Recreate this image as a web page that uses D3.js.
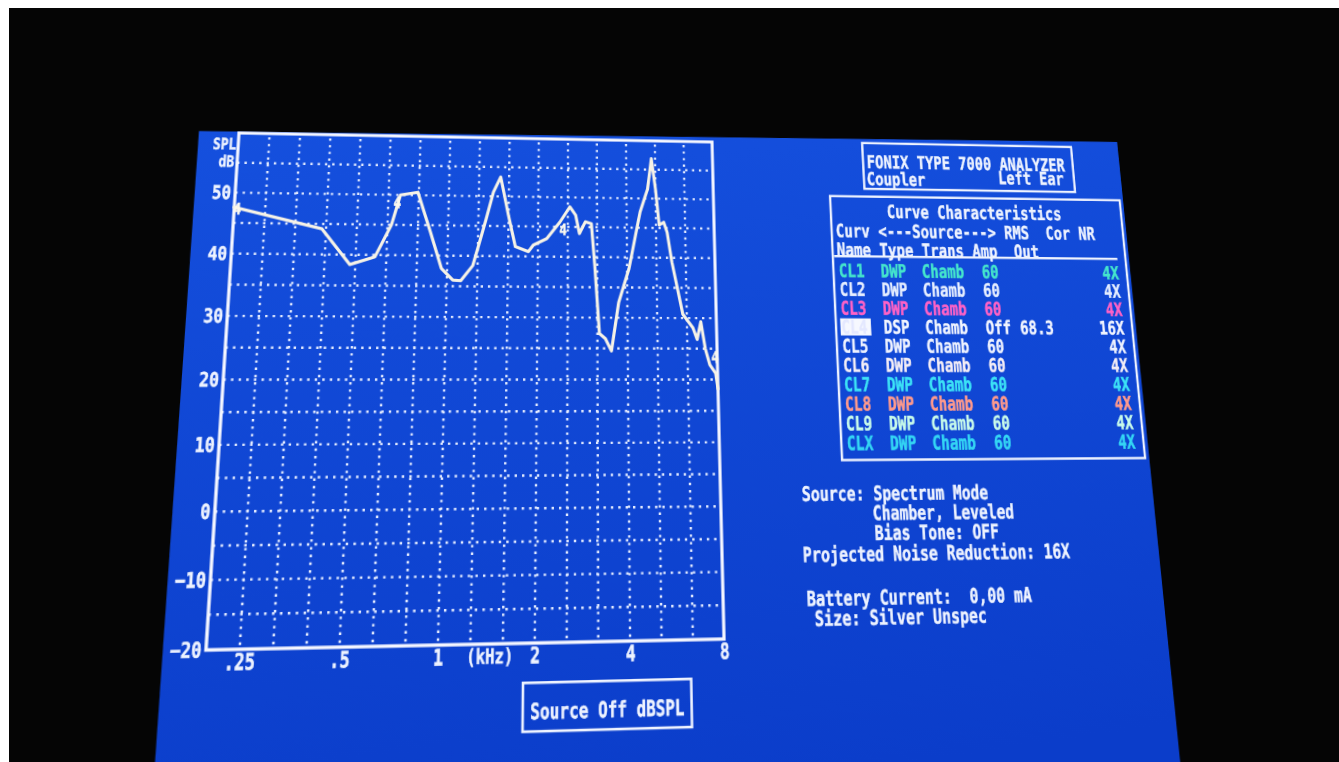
<!DOCTYPE html>
<html>
<head>
<meta charset="utf-8">
<script src="https://cdn.jsdelivr.net/npm/d3@7"></script>
<style>
html, body { margin: 0; padding: 0; background: #050505; overflow: hidden; width: 1339px; height: 762px; }
#screen { position: absolute; left: 0; top: 0; transform-origin: 0 0; filter: blur(0.5px); }
#svg { overflow: visible; display: block; }
text { font-family: "DejaVu Sans Mono", monospace; font-weight: bold; }
.strip { position: absolute; background: #fff; }
</style>
</head>
<body>
<div id="screen"><svg id="svg"></svg></div>
<div class="strip" style="left:0;top:0;width:1339px;height:8px"></div>
<div class="strip" style="left:0;top:0;width:9px;height:762px"></div>
<script>
// ---- data ----
const freqKHz = [0.198, 0.385, 0.48, 0.578, 0.649, 0.69, 0.788, 0.874, 0.957, 1.046, 1.111, 1.215,
  1.33, 1.41, 1.49, 1.587, 1.68, 1.86, 1.93, 2.14, 2.37, 2.56, 2.68, 2.76, 2.89, 3.03, 3.11, 3.22,
  3.37, 3.53, 3.74, 4.06, 4.45, 4.73, 4.89, 5.04, 5.17, 5.36, 5.5, 5.69, 6.16, 6.65, 6.86, 7.08,
  7.3, 7.54, 7.88, 8.0];
const splDb = [47.6, 44.2, 38.4, 39.7, 45.0, 50.0, 50.5, 43.9, 37.9, 36.0, 35.9, 38.4,
  45.7, 50.7, 53.3, 46.9, 41.6, 40.8, 41.9, 43.0, 45.8, 48.4, 47.0, 43.9, 45.9, 45.6, 38.6, 27.4,
  26.6, 24.6, 32.5, 38.1, 47.7, 51.6, 56.9, 51.6, 45.5, 46.0, 44.3, 39.3, 30.6, 28.4, 26.5, 29.4,
  25.0, 22.4, 21.0, 18.5];

// curve number tags drawn along the trace
const tagFreqs = [0.203, 0.675, 2.43, 7.86];
const tagDb = [47.2, 48.6, 44.4, 23.5];
const tagText = "4";

const yTicks = [50, 40, 30, 20, 10, 0, -10, -20];
const xTicks = [0.25, 0.5, 1, 2, 4, 8];
const xTickLabels = [".25", ".5", "1", "2", "4", "8"];
const gridFreqs = [0.25, 0.315, 0.397, 0.5, 0.63, 0.794, 1, 1.26, 1.59, 2, 2.52, 3.17, 4, 5.04, 6.35];
const gridDb = [-15, -10, -5, 0, 5, 10, 15, 20, 25, 30, 35, 40, 45, 50, 55];

const curveNames = ["CL1", "CL2", "CL3", "CL4", "CL5", "CL6", "CL7", "CL8", "CL9", "CLX"];
const curveTypes = ["DWP", "DWP", "DWP", "DSP", "DWP", "DWP", "DWP", "DWP", "DWP", "DWP"];
const curveTrans = ["Chamb", "Chamb", "Chamb", "Chamb", "Chamb", "Chamb", "Chamb", "Chamb", "Chamb", "Chamb"];
const curveAmp = ["60", "60", "60", "Off", "60", "60", "60", "60", "60", "60"];
const curveRms = ["", "", "", "68.3", "", "", "", "", "", ""];
const curveNr = ["4X", "4X", "4X", "16X", "4X", "4X", "4X", "4X", "4X", "4X"];

const infoLines = ["Source: Spectrum Mode", "Chamber, Leveled", "Bias Tone: OFF",
  "Projected Noise Reduction: 16X", "Battery Current:  0,00 mA", "Size: Silver Unspec"];

// colours of the table rows
const rowColors = ["#45e6cc", "#e6eeff", "#ff62c6", "#f2f5ff", "#eef2ff", "#f4eef6",
  "#3ce2f6", "#ff9a8c", "#c8fbea", "#34d6f4"];
const ink = "#eef3ff";

// ---- perspective: the flat screen is warped onto the photographed one ----
const plot = {left: 222, right: 718, top: 138, bottom: 645};
const flatCorners = [[plot.left, plot.top], [plot.right, plot.top], [plot.right, plot.bottom], [plot.left, plot.bottom]];
const photoCorners = [[239, 133], [712, 142], [724, 639], [206, 650]];

function solveHomography(src, dst) {
  const A = [], b = [];
  src.forEach(([x, y], i) => {
    const [u, v] = dst[i];
    A.push([x, y, 1, 0, 0, 0, -x * u, -y * u]); b.push(u);
    A.push([0, 0, 0, x, y, 1, -x * v, -y * v]); b.push(v);
  });
  for (let c = 0; c < 8; c++) {
    let p = c;
    for (let r = c + 1; r < 8; r++) if (Math.abs(A[r][c]) > Math.abs(A[p][c])) p = r;
    [A[c], A[p]] = [A[p], A[c]];
    [b[c], b[p]] = [b[p], b[c]];
    for (let r = 0; r < 8; r++) {
      if (r === c) continue;
      const f = A[r][c] / A[c][c];
      for (let k = c; k < 8; k++) A[r][k] -= f * A[c][k];
      b[r] -= f * b[c];
    }
  }
  return b.map((v, i) => v / A[i][i]);
}

const H = solveHomography(flatCorners, photoCorners);
const Hinv = solveHomography(photoCorners, flatCorners);
// photo position -> flat screen position (used for the panel layout)
function unwarp([x, y]) {
  const w = Hinv[6] * x + Hinv[7] * y + 1;
  return [(Hinv[0] * x + Hinv[1] * y + Hinv[2]) / w, (Hinv[3] * x + Hinv[4] * y + Hinv[5]) / w];
}

d3.select("#screen").style("transform",
  `matrix3d(${H[0]},${H[3]},0,${H[6]},${H[1]},${H[4]},0,${H[7]},0,0,1,0,${H[2]},${H[5]},0,1)`);

const svg = d3.select("#svg").attr("width", 1400).attr("height", 950);

const grad = svg.append("defs").append("linearGradient")
  .attr("id", "crt").attr("x1", 0).attr("y1", 0).attr("x2", 0.15).attr("y2", 1);
grad.append("stop").attr("offset", "0%").attr("stop-color", "#1550de");
grad.append("stop").attr("offset", "100%").attr("stop-color", "#0b3dca");

svg.append("polygon")
  .attr("points", [[199, 131], [1117, 142], [1186, 820], [151, 820]].map(unwarp).join(" "))
  .attr("fill", "url(#crt)");

function say(parent, txt, [x, y], size, color, anchor) {
  const c = color || ink;
  return parent.append("text")
    .attr("transform", `translate(${x},${y}) scale(1,1.28)`)
    .attr("font-size", size)
    .attr("fill", c).attr("stroke", c).attr("stroke-width", 0.45)
    .attr("text-anchor", anchor || "start")
    .style("white-space", "pre")
    .text(txt);
}

// ---- plot ----
const x = d3.scaleLog().domain([0.25 / Math.cbrt(2), 8]).range([plot.left, plot.right]);
const y = d3.scaleLinear().domain([-20, 60]).range([plot.bottom, plot.top]);

const g = svg.append("g");

g.selectAll(".vgrid").data(gridFreqs).join("line")
  .attr("class", "vgrid")
  .attr("x1", d => x(d)).attr("x2", d => x(d))
  .attr("y1", plot.top + 4).attr("y2", plot.bottom)
  .attr("stroke", "#e2eaff").attr("stroke-width", 2.4).attr("stroke-dasharray", "2.4 4.8");

g.selectAll(".hgrid").data(gridDb).join("line")
  .attr("class", "hgrid")
  .attr("x1", plot.left).attr("x2", plot.right)
  .attr("y1", d => y(d)).attr("y2", d => y(d))
  .attr("stroke", "#e2eaff").attr("stroke-width", 2.4).attr("stroke-dasharray", "2.4 5");

g.append("rect")
  .attr("x", plot.left).attr("y", plot.top)
  .attr("width", plot.right - plot.left).attr("height", plot.bottom - plot.top)
  .attr("fill", "none").attr("stroke", "#f4f6ff").attr("stroke-width", 3.2);

const yAxis = g.append("g")
  .attr("transform", `translate(${plot.left},0)`)
  .call(d3.axisLeft(y).tickValues(yTicks).tickSize(0).tickPadding(4));
yAxis.select(".domain").remove();
yAxis.selectAll("text")
  .attr("font-size", 16).attr("fill", ink).attr("stroke", ink).attr("stroke-width", 0.5)
  .attr("dy", "0.32em").attr("transform", "scale(1,1.22)");

const xAxis = g.append("g")
  .attr("transform", `translate(0,${plot.bottom})`)
  .call(d3.axisBottom(x).tickValues(xTicks).tickFormat((d, i) => xTickLabels[i]).tickSize(0).tickPadding(3));
xAxis.select(".domain").remove();
xAxis.selectAll("text")
  .attr("font-size", 16).attr("fill", ink).attr("stroke", ink).attr("stroke-width", 0.5)
  .attr("transform", "scale(1,1.28)");

say(g, "(kHz)", [x(1.45), plot.bottom + 18], 15, ink, "middle");
say(g, "SPL", [plot.left - 2, y(57.2)], 13, ink, "end");
say(g, "dB", [plot.left - 3, y(54.3)], 13, ink, "end");

const line = d3.line().x((d, i) => x(freqKHz[i])).y(d => y(d));
g.append("path")
  .datum(splDb)
  .attr("d", line)
  .attr("fill", "none").attr("stroke", "#f6f2e6").attr("stroke-width", 3.2)
  .attr("stroke-linejoin", "round").attr("stroke-linecap", "round");

tagFreqs.forEach((f, i) => {
  say(g, tagText, [x(f), y(tagDb[i]) + 5], 13, "#fbf8ee", "middle");
});

// footer box
const footTL = unwarp([523, 683]), footBR = unwarp([692, 727]);
g.append("rect")
  .attr("x", footTL[0]).attr("y", footTL[1])
  .attr("width", footBR[0] - footTL[0]).attr("height", footBR[1] - footTL[1])
  .attr("fill", "none").attr("stroke", ink).attr("stroke-width", 2.5);
say(g, "Source Off dBSPL", [(footTL[0] + footBR[0]) / 2, footBR[1] - 11], 15.5, ink, "middle");

// ---- right panel ----
const panel = svg.append("g");

const hdTL = unwarp([862, 143]), hdBR = unwarp([1075, 192]);
panel.append("rect")
  .attr("x", hdTL[0]).attr("y", hdTL[1])
  .attr("width", hdBR[0] - hdTL[0]).attr("height", hdBR[1] - hdTL[1])
  .attr("fill", "none").attr("stroke", ink).attr("stroke-width", 2.5);
say(panel, "FONIX TYPE 7000 ANALYZER", unwarp([867, 168]), 15.5, ink);
say(panel, "Coupler", unwarp([867, 185]), 15.5, ink);
say(panel, "Left Ear", unwarp([1064, 185]), 15.5, ink, "end");

const tbTL = unwarp([830, 196]), tbBR = unwarp([1145, 458]);
panel.append("rect")
  .attr("x", tbTL[0]).attr("y", tbTL[1])
  .attr("width", tbBR[0] - tbTL[0]).attr("height", tbBR[1] - tbTL[1])
  .attr("fill", "none").attr("stroke", ink).attr("stroke-width", 2.5);

say(panel, "Curve Characteristics", unwarp([975, 219]), 15.5, ink, "middle");
say(panel, "Curv <---Source---> RMS  Cor NR", unwarp([836, 237]), 15.5, ink);
say(panel, "Name Type Trans Amp  Out", unwarp([837, 256]), 15.5, ink);
const ul0 = unwarp([834, 256]), ul1 = unwarp([1117, 256]);
panel.append("line")
  .attr("x1", ul0[0]).attr("x2", ul1[0]).attr("y1", ul0[1]).attr("y2", ul0[1])
  .attr("stroke", ink).attr("stroke-width", 2.5);

const rowTop = unwarp([840, 277])[1], rowBottom = unwarp([847, 450])[1];
const rowY = d3.scaleLinear().domain([0, curveNames.length - 1]).range([rowTop, rowBottom]);
const col = {
  name: unwarp([839, 277])[0], type: unwarp([881, 277])[0], trans: unwarp([922, 277])[0],
  amp: unwarp([982, 277])[0], rms: unwarp([1016, 277])[0], nr: unwarp([1119, 277])[0]
};

curveNames.forEach((name, i) => {
  const c = rowColors[i], yy = rowY(i);
  if (name === "CL4") {
    panel.append("rect").attr("x", col.name - 1).attr("y", yy - 16)
      .attr("width", 33).attr("height", 18).attr("fill", "#f6f8ff");
  }
  say(panel, name, [col.name, yy], 15.5, name === "CL4" ? "#e4e8ff" : c);
  say(panel, curveTypes[i], [col.type, yy], 15.5, c);
  say(panel, curveTrans[i], [col.trans, yy], 15.5, c);
  say(panel, curveAmp[i], [col.amp, yy], 15.5, c);
  if (curveRms[i]) say(panel, curveRms[i], [col.rms, yy], 15.5, c);
  say(panel, curveNr[i], [col.nr, yy], 15.5, c, "end");
});

// status block
const infoAnchors = [[802, 501], [873, 520], [875, 540], [803, 562], [807, 606], [815, 626]];
infoLines.forEach((t, i) => say(panel, t, unwarp(infoAnchors[i]), 15.5, ink));
</script>
</body>
</html>
